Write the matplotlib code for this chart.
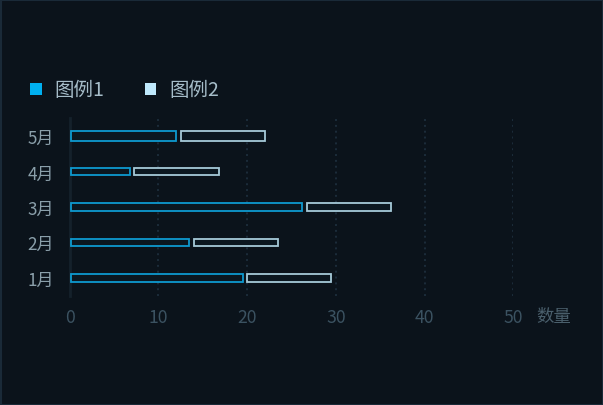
import matplotlib
matplotlib.use("Agg")
import matplotlib.pyplot as plt
from matplotlib.patches import Rectangle

plt.rcParams['font.family'] = ['Noto Sans CJK SC', 'DejaVu Sans']

# ---- data ----
categories = ['1月', '2月', '3月', '4月', '5月']
series_names = ['图例1', '图例2']
series1 = [19.5, 13.5, 26.2, 6.8, 12]
series2 = [10, 10, 10, 10, 10]
x_ticks = [0, 10, 20, 30, 40, 50]
x_label = '数量'

# ---- style ----
BG = '#0b131b'
C1_EDGE = '#0e9ad0'
C2_EDGE = '#a6cad9'
C1_LEG = '#00b0f0'
C2_LEG = '#bfe9fc'
FILL = '#0b1720'
bar_heights = [0.21, 0.21, 0.21, 0.21, 0.29]
GAP = 0.5
INSET = 0.15

W, H = 603, 406
fig = plt.figure(figsize=(W / 100, H / 100), dpi=100, facecolor=BG)
ax = fig.add_axes([69.7 / W, 1 - 296.5 / H, (513.3 - 69.7) / W, (296.5 - 119.3) / H])
ax.set_facecolor(BG)

ypos = list(range(len(categories)))
ax.barh(ypos, [v - INSET for v in series1], left=INSET, height=bar_heights,
        facecolor=FILL, edgecolor=C1_EDGE, linewidth=1.3, zorder=3)
ax.barh(ypos, [v - GAP for v in series2], left=[a + GAP for a in series1],
        height=bar_heights, facecolor=FILL, edgecolor=C2_EDGE, linewidth=1.3, zorder=3)

ax.set_xlim(0, 50)
ax.set_ylim(-0.5, len(categories) - 0.5)
ax.set_xticks(x_ticks)
ax.set_yticks(ypos)
ax.set_yticklabels(categories)
ax.tick_params(axis='x', length=0, pad=9, labelsize=12.7, labelcolor='#3b5261')
ax.tick_params(axis='y', length=0, pad=11, labelsize=12.3, labelcolor='#8a9faa')

for s in ['top', 'right', 'bottom']:
    ax.spines[s].set_visible(False)
ax.spines['left'].set_color('#15212b')
ax.spines['left'].set_linewidth(2)
ax.spines['left'].set_zorder(2)

ax.xaxis.grid(True, linestyle=(0, (1, 2)), color='#1c2c3a', linewidth=1.4, zorder=1)
ax.set_axisbelow(True)
ax.get_xgridlines()[0].set_visible(False)

fig.text(536 / W, 1 - 317 / H, x_label, fontsize=12.5, color='#4a5f6c', va='center', ha='left')

# legend (manual)
leg_cols = [C1_LEG, C2_LEG]
sq_x = [30, 144.5]
txt_x = [54, 169]
for name, col, sx, tx in zip(series_names, leg_cols, sq_x, txt_x):
    fig.patches.append(Rectangle((sx / W, 1 - 96 / H), 11.5 / W, 11.5 / H,
                                 transform=fig.transFigure, facecolor=col, edgecolor='none'))
    fig.text(tx / W, 1 - 91 / H, name, fontsize=14, color='#a6bdc9', va='center', ha='left')

# outer border
fig.patches.append(Rectangle((0.5 / W, 0.5 / H), (W - 1) / W, (H - 1) / H, transform=fig.transFigure,
                             facecolor='none', edgecolor='#1a2a38', linewidth=1.5))

fig.savefig('out.png', dpi=100, facecolor=BG)
